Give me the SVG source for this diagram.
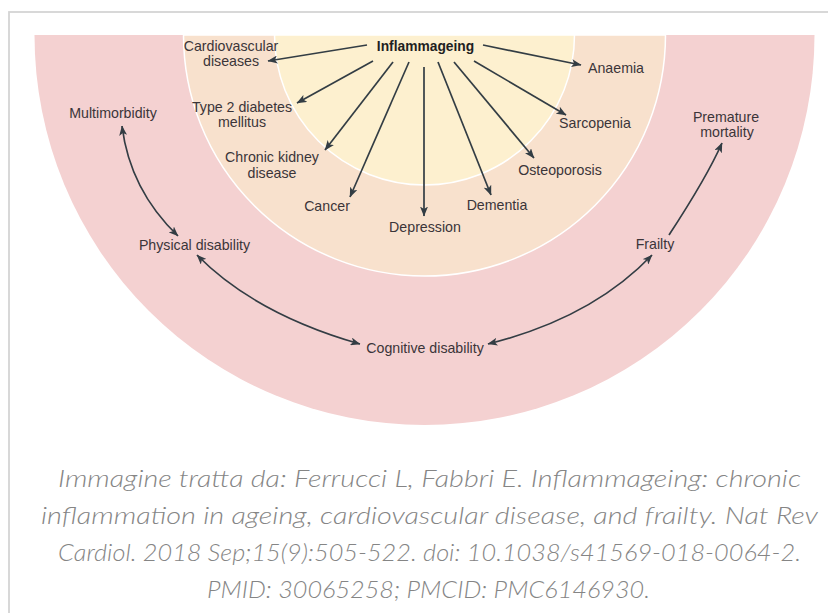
<svg xmlns="http://www.w3.org/2000/svg" width="828" height="613" viewBox="0 0 828 613">
<style>
.lbl{font-family:"Liberation Sans",Arial,sans-serif;font-size:14.2px;fill:#3b3539;text-anchor:middle}
.bold{font-weight:bold;fill:#1f1f22;font-size:13.8px}
.cap{font-family:Lato,"Open Sans","Liberation Sans",sans-serif;font-style:italic;font-weight:300;font-size:23.5px;fill:#858585;text-anchor:middle}
.con{fill:none;stroke:#333d44;stroke-width:1.7}
</style>
<defs>
<marker id="ah" viewBox="0 0 10 8" refX="9.5" refY="4" markerWidth="10" markerHeight="8" markerUnits="userSpaceOnUse" orient="auto-start-reverse">
<path d="M0,0 L10,4 L0,8 L2.5,4 Z" fill="#333d44"/>
</marker>
</defs>
<rect x="0" y="0" width="828" height="613" fill="#ffffff"/>
<rect x="9" y="12" width="830" height="620" fill="none" stroke="#d4d4d4" stroke-width="1.8"/>
<g id="rings">
<path d="M34.5,35 A390,390 0 0 0 814.5,35 Z" fill="#f4d1d1"/>
<path d="M183.5,35 A241,241 0 0 0 665.5,35 Z" fill="#f8e1cd" stroke="#ffffff" stroke-width="1.5"/>
<path d="M274.5,35 A150,150 0 0 0 574.5,35 Z" fill="#fdf0cf" stroke="#ffffff" stroke-width="1.5"/>
</g>
<g id="connectors">
<path class="con" d="M367,45 L268,61" marker-end="url(#ah)"/>
<path class="con" d="M373,61 L297,103" marker-end="url(#ah)"/>
<path class="con" d="M393,62 L325,150" marker-end="url(#ah)"/>
<path class="con" d="M409,62 L350,197" marker-end="url(#ah)"/>
<path class="con" d="M424,67 L424,216" marker-end="url(#ah)"/>
<path class="con" d="M438,62 L491,195" marker-end="url(#ah)"/>
<path class="con" d="M454,62 L534,158" marker-end="url(#ah)"/>
<path class="con" d="M474,61 L566,115" marker-end="url(#ah)"/>
<path class="con" d="M483,45 L581,65" marker-end="url(#ah)"/>
<path class="con" d="M122,126 Q130,190 178,236" marker-start="url(#ah)" marker-end="url(#ah)"/>
<path class="con" d="M197,255 Q255,314 360,344" marker-start="url(#ah)" marker-end="url(#ah)"/>
<path class="con" d="M488,344 Q592,318 652,255" marker-start="url(#ah)" marker-end="url(#ah)"/>
<path class="con" d="M669,235 Q707,177 722,143" marker-end="url(#ah)"/>
</g>
<g id="n-inflammageing"><text class="lbl bold" x="425.5" y="51">Inflammageing</text></g>
<g id="n-cardiovascular"><text class="lbl" x="231" y="51">Cardiovascular</text><text class="lbl" x="231" y="66">diseases</text></g>
<g id="n-diabetes"><text class="lbl" x="242" y="112">Type 2 diabetes</text><text class="lbl" x="242" y="127">mellitus</text></g>
<g id="n-kidney"><text class="lbl" x="272" y="162">Chronic kidney</text><text class="lbl" x="272" y="178">disease</text></g>
<g id="n-cancer"><text class="lbl" x="327" y="211">Cancer</text></g>
<g id="n-depression"><text class="lbl" x="425" y="232">Depression</text></g>
<g id="n-dementia"><text class="lbl" x="497" y="210">Dementia</text></g>
<g id="n-osteoporosis"><text class="lbl" x="560" y="175">Osteoporosis</text></g>
<g id="n-sarcopenia"><text class="lbl" x="595" y="128">Sarcopenia</text></g>
<g id="n-anaemia"><text class="lbl" x="616" y="73">Anaemia</text></g>
<g id="n-multimorbidity"><text class="lbl" x="113" y="118">Multimorbidity</text></g>
<g id="n-physical"><text class="lbl" x="194.5" y="250">Physical disability</text></g>
<g id="n-cognitive"><text class="lbl" x="425" y="353">Cognitive disability</text></g>
<g id="n-frailty"><text class="lbl" x="655" y="249">Frailty</text></g>
<g id="n-premature"><text class="lbl" x="726" y="122">Premature</text><text class="lbl" x="727" y="137">mortality</text></g>
<g id="caption">
<text class="cap" x="429.5" y="487" textLength="743" lengthAdjust="spacingAndGlyphs">Immagine tratta da: Ferrucci L, Fabbri E. Inflammageing: chronic</text>
<text class="cap" x="429.5" y="524" textLength="777" lengthAdjust="spacingAndGlyphs">inflammation in ageing, cardiovascular disease, and frailty. Nat Rev</text>
<text class="cap" x="429.5" y="561" textLength="743" lengthAdjust="spacingAndGlyphs">Cardiol. 2018 Sep;15(9):505-522. doi: 10.1038/s41569-018-0064-2.</text>
<text class="cap" x="428.5" y="598" textLength="443" lengthAdjust="spacingAndGlyphs">PMID: 30065258; PMCID: PMC6146930.</text>
</g>
</svg>
